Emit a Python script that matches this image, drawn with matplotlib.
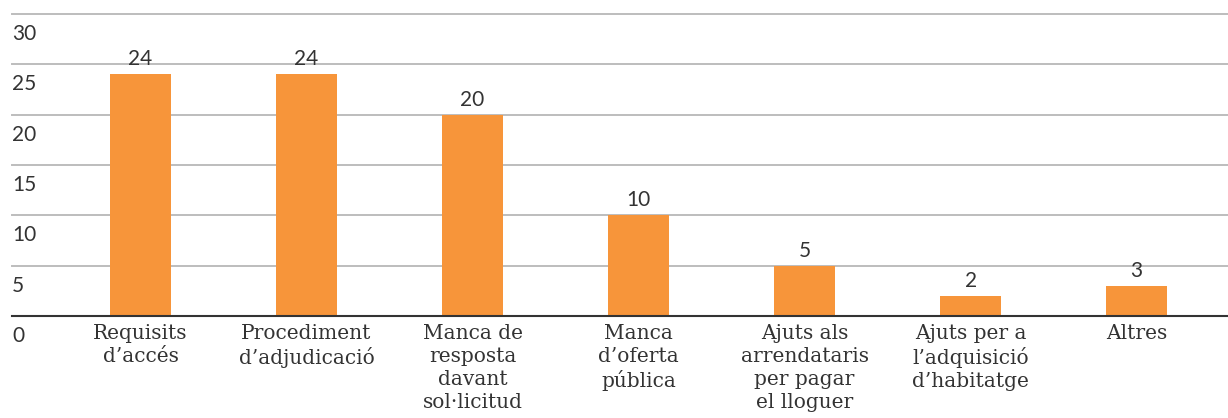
import numpy as np
import matplotlib.pyplot as plt
from matplotlib.transforms import offset_copy

categories = [
    "Requisits\nd’accés",
    "Procediment\nd’adjudicació",
    "Manca de\nresposta\ndavant\nsol·licitud",
    "Manca\nd’oferta\npública",
    "Ajuts als\narrendataris\nper pagar\nel lloguer",
    "Ajuts per a\nl’adquisició\nd’habitatge",
    "Altres",
]
values = [24, 24, 20, 10, 5, 2, 3]
yticks = [0, 5, 10, 15, 20, 25, 30]

bar_color = "#F7953A"
text_color = "#333333"
num_font = "Lato"
lab_font = "DejaVu Serif"

fig = plt.figure(figsize=(12.28, 4.18), dpi=100)
ax = fig.add_axes([12 / 1228, 1 - 316 / 418, 1216 / 1228, 302 / 418])

x = np.arange(len(values))
ax.bar(x, values, width=0.367, color=bar_color, zorder=3)

ax.set_xlim(-0.774, 6.55)
ax.set_ylim(0, 30)

# gridlines
for t in yticks[1:]:
    ax.axhline(t, color="#BDBDBD", lw=1.4, zorder=1, clip_on=False)
ax.axhline(0, color="#333333", lw=1.5, zorder=4, clip_on=False)

for s in ax.spines.values():
    s.set_visible(False)
ax.set_xticks([])
ax.set_yticks([])

# y labels sit just below each gridline
ylab_tr = offset_copy(ax.get_yaxis_transform(), fig=fig, x=0, y=-10, units="dots")
for t in yticks:
    ax.text(0, t, str(t), transform=ylab_tr, ha="left", va="top",
            fontsize=15, family=num_font, color=text_color)

# value labels
val_tr = offset_copy(ax.transData, fig=fig, x=0, y=5, units="dots")
for xi, v in zip(x, values):
    ax.text(xi, v, str(v), transform=val_tr, ha="center", va="bottom",
            fontsize=15, family=num_font, color=text_color)

# category labels
cat_tr = offset_copy(ax.transData, fig=fig, x=0, y=-8, units="dots")
for xi, c in zip(x, categories):
    ax.text(xi, 0, c, transform=cat_tr, ha="center", va="top",
            fontsize=14.5, family=lab_font, color=text_color, linespacing=1.26)

fig.savefig("out.png", dpi=100)
